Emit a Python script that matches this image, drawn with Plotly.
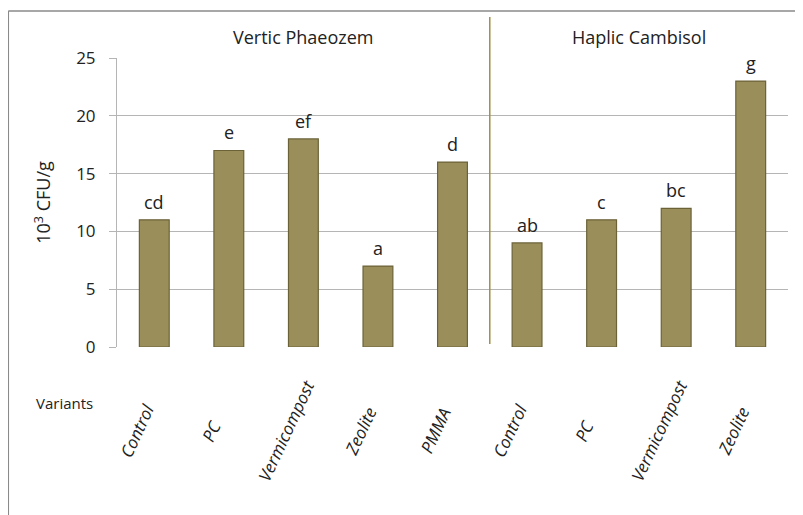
import plotly.graph_objects as go

categories = ["Control", "PC", "Vermicompost", "Zeolite", "PMMA",
              "Control", "PC", "Vermicompost", "Zeolite"]
values = [11, 17, 18, 7, 16, 9, 11, 12, 23]
letters = ["cd", "e", "ef", "a", "d", "ab", "c", "bc", "g"]
groups = ["Vertic Phaeozem", "Haplic Cambisol"]
group_sizes = [5, 4]
y_ticks = [0, 5, 10, 15, 20, 25]

FONT = "Open Sans"
x = list(range(len(categories)))

fig = go.Figure()
fig.add_trace(go.Bar(
    x=x, y=values, width=0.4,
    marker=dict(color="#9A8F5B", line=dict(color="#6B6238", width=1.2)),
    hoverinfo="skip", showlegend=False,
))

annotations = []
for xi, v, t in zip(x, values, letters):
    annotations.append(dict(x=xi, y=v, xref="x", yref="y", text=t, showarrow=False,
                            yanchor="bottom", yshift=4,
                            font=dict(family=FONT, size=18, color="#222")))
for xi, c in zip(x, categories):
    annotations.append(dict(x=xi, y=-0.29, xref="x", yref="paper", text="<i>" + c + "</i>",
                            showarrow=False, textangle=-65, xanchor="center", yanchor="middle",
                            xshift=-17,
                            font=dict(family=FONT, size=17, color="#222")))
start = 0
for g, n in zip(groups, group_sizes):
    annotations.append(dict(x=start + (n - 1) / 2, y=1.073, xref="x", yref="paper", text=g,
                            showarrow=False, yanchor="middle",
                            font=dict(family=FONT, size=18, color="#222")))
    start += n
annotations.append(dict(x=-0.078, y=-0.194, xref="paper", yref="paper", text="Variants",
                        showarrow=False, xanchor="center", yanchor="middle",
                        font=dict(family=FONT, size=15, color="#222")))

shapes = [
    dict(type="line", xref="x", yref="paper", x0=4.5, x1=4.5, y0=0.01, y1=1.142,
         line=dict(color="#A09046", width=1.5)),
    dict(type="line", xref="paper", yref="paper", x0=-0.162, x1=1.03, y0=1.163, y1=1.163,
         line=dict(color="#8A8A8A", width=1.5)),
    dict(type="line", xref="paper", yref="paper", x0=-0.162, x1=-0.162, y0=1.163, y1=-0.6,
         line=dict(color="#8A8A8A", width=1.5)),
]

fig.update_layout(
    width=795, height=507,
    margin=dict(l=109, r=15, t=50, b=168),
    paper_bgcolor="white", plot_bgcolor="white",
    annotations=annotations, shapes=shapes,
    xaxis=dict(range=[-0.5, len(categories) - 0.5], showticklabels=False, ticks="",
               showgrid=False, zeroline=False, showline=False),
    yaxis=dict(range=[0, 25], tickvals=y_ticks, showgrid=True, gridcolor="#B5B5B5",
               gridwidth=1.2, zeroline=False, showline=True, linecolor="#B5B5B5",
               ticks="outside", ticklen=7, tickcolor="#B5B5B5", ticklabelstandoff=10,
               tickfont=dict(family=FONT, size=17, color="#222"),
               title=dict(text="10<sup>3</sup> CFU/g", standoff=20,
                          font=dict(family=FONT, size=18, color="#222"))),
)

fig.write_html("out.html")
